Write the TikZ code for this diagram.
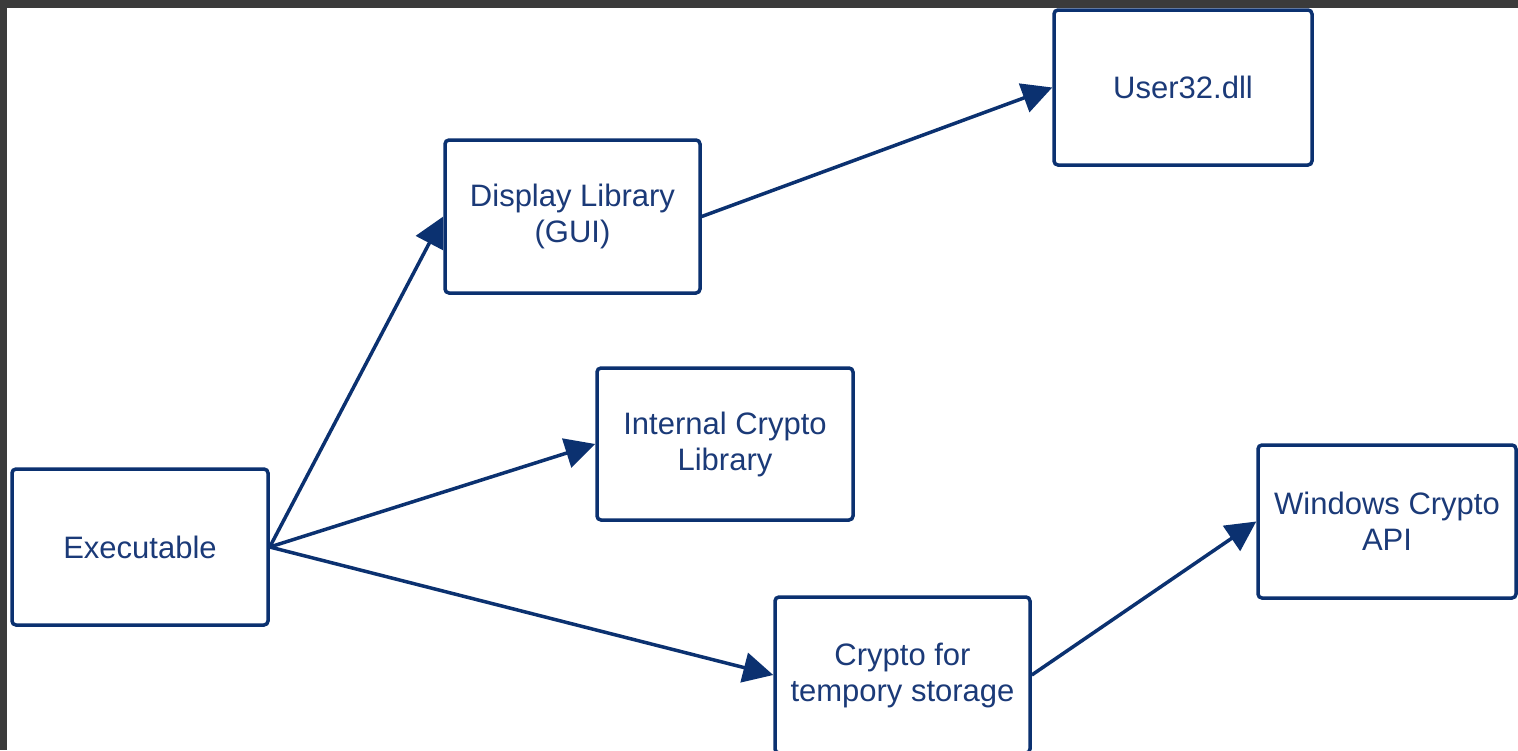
\documentclass[tikz,border=0pt]{standalone}
\usepackage{fontspec}
\setmainfont{Liberation Sans}
\usetikzlibrary{arrows.meta}
\definecolor{navy}{HTML}{0B3170}
\definecolor{txtnavy}{HTML}{1B3A78}
\definecolor{frame}{HTML}{3B3B3B}
\tikzset{
  box/.style={draw=navy, line width=3.5pt, rounded corners=4pt, fill=white,
    text=txtnavy, align=center, inner sep=0pt,
    font=\fontsize{31}{36}\selectfont},
  conn/.style={draw=navy, line width=3.5pt,
    -{Triangle[length=30pt,width=30pt]}}
}
\begin{document}
\begin{tikzpicture}[x=1pt,y=-1pt]
\useasboundingbox (0,0) rectangle (1518,750);
\clip (0,0) rectangle (1518,750);
\fill[white] (0,0) rectangle (1518,750);
\fill[frame] (0,0) rectangle (1518,8);
\fill[frame] (0,0) rectangle (7,750);

\node[box, minimum width=256pt, minimum height=156pt] (exe) at (140,547) {Executable};
\node[box, minimum width=255pt, minimum height=153pt] (disp) at (572.5,216.5) {Display Library\\(GUI)};
\node[box, minimum width=258pt, minimum height=155pt] (user) at (1183,87.5) {User32.dll};
\node[box, minimum width=256pt, minimum height=152pt] (int) at (725,444) {Internal Crypto\\Library};
\node[box, minimum width=258pt, minimum height=153pt] (win) at (1387,521.5) {Windows Crypto\\API};
\node[box, minimum width=255pt, minimum height=156pt] (sto) at (902.5,675) {Crypto for\\tempory storage};

\draw[conn] (exe.east) -- (disp.west);
\draw[conn] (exe.east) -- (int.west);
\draw[conn] (exe.east) -- (sto.west);
\draw[conn] (disp.east) -- (user.west);
\draw[conn] (sto.east) -- (win.west);
\end{tikzpicture}
\end{document}
